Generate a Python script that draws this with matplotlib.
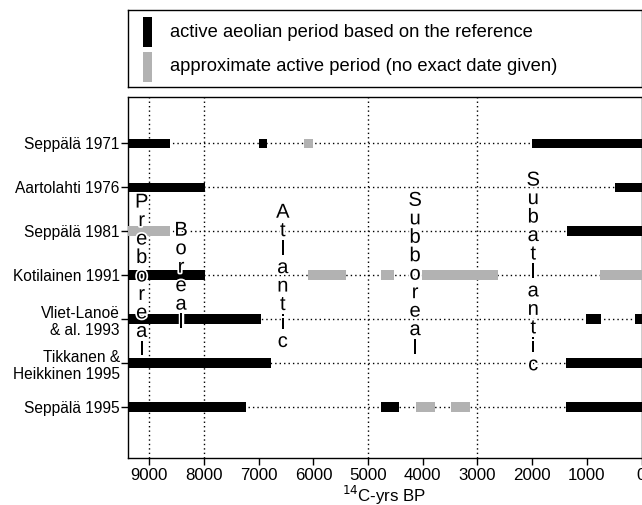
import matplotlib
matplotlib.use("Agg")
import matplotlib.pyplot as plt
from matplotlib.patches import Rectangle
import matplotlib.patheffects as pe

plt.rcParams['font.family'] = ['Liberation Sans', 'DejaVu Sans']

# ---------------- data ----------------
studies = ["Seppälä 1971", "Aartolahti 1976", "Seppälä 1981", "Kotilainen 1991",
           "Vliet-Lanoë\n& al. 1993", "Tikkanen &\nHeikkinen 1995", "Seppälä 1995"]

# active aeolian periods (start, end) in 14C-yrs BP
black_periods = [
    [(10000, 8620), (7000, 6840), (2010, 0)],
    [(10000, 7990), (490, 0)],
    [(1360, 0)],
    [(10000, 7990)],
    [(10000, 6950), (1010, 735), (128, 0)],
    [(10000, 6770), (1375, 0)],
    [(10000, 7240), (4755, 4430), (1375, 0)],
]
# approximate active periods (no exact date given)
gray_periods = [
    [(6180, 6000)],
    [],
    [(10000, 8630)],
    [(6090, 5395), (4755, 4520), (4010, 2620), (750, 0)],
    [],
    [],
    [(4115, 3770), (3475, 3145)],
]

period_names = ["Preboreal", "Boreal", "Atlantic", "Subboreal", "Subatlantic"]
period_x = [9140, 8420, 6560, 4140, 1980]
period_top = [1.34, 1.98, 1.57, 1.30, 0.84]

grid_years = [9000, 8000, 5000, 3000]
xticks = [9000, 8000, 7000, 6000, 5000, 4000, 3000, 2000, 1000, 0]

legend_labels = ["active aeolian period based on the reference",
                 "approximate active period (no exact date given)"]

BLACK = "#000000"
GRAY = "#b2b2b2"

# ---------------- figure ----------------
W, H = 642, 505
fig = plt.figure(figsize=(W / 100, H / 100), dpi=100)

ax = fig.add_axes([127.5 / W, 1 - 458 / H, (641.5 - 127.5) / W, (458 - 97) / H])
ax.set_xlim(9400, 0)
ax.set_ylim(7.16, -1.05)

dots = (0, (1, 2.2))
for i in range(len(studies)):
    ax.axhline(i, color=BLACK, lw=1.0, ls=dots, zorder=1)
for g in grid_years:
    ax.axvline(g, color=BLACK, lw=1.0, ls=dots, zorder=1)

bh = 0.21
for i, segs in enumerate(black_periods):
    for s, e in segs:
        ax.barh(i, s - e, left=e, height=bh, color=BLACK, lw=0, zorder=3)
for i, segs in enumerate(gray_periods):
    for s, e in segs:
        ax.barh(i, s - e, left=e, height=bh, color=GRAY, lw=0, zorder=3)

# period labels (stacked letters)
step = 0.42
for name, x, top in zip(period_names, period_x, period_top):
    for k, ch in enumerate(name):
        ax.text(x, top + k * step, ch, ha="center", va="center", fontsize=14.5,
                color=BLACK, zorder=5,
                path_effects=[pe.withStroke(linewidth=2.5, foreground="white")])

ax.set_yticks(range(len(studies)))
ax.set_yticklabels(studies, fontsize=11.2, ha="right")
ax.set_xticks(xticks)
ax.set_xticklabels([str(t) for t in xticks], fontsize=12.2)
ax.tick_params(axis="both", direction="out", length=5, width=1, color=BLACK)
ax.tick_params(axis="y", pad=0.5)
ax.tick_params(axis="x", pad=2.5)
for sp in ax.spines.values():
    sp.set_linewidth(1.0)
    sp.set_color(BLACK)
ax.set_xlabel(r"$^{14}$C-yrs BP", fontsize=12.2, labelpad=0)

# ---------------- legend box ----------------
lax = fig.add_axes([127.5 / W, 1 - 87 / H, (641.5 - 127.5) / W, (87 - 10) / H])
lax.set_xlim(0, W - 127.5)
lax.set_ylim(77, 0)
lax.set_xticks([])
lax.set_yticks([])
for sp in lax.spines.values():
    sp.set_linewidth(1.0)
lax.add_patch(Rectangle((15.5, 7), 9, 30, color=BLACK, lw=0))
lax.add_patch(Rectangle((15.5, 42), 9, 30, color=GRAY, lw=0))
lax.text(42.5, 23, legend_labels[0], fontsize=13.2, va="center", ha="left")
lax.text(42.5, 57, legend_labels[1], fontsize=13.2, va="center", ha="left")

fig.savefig("out.png", dpi=100)
